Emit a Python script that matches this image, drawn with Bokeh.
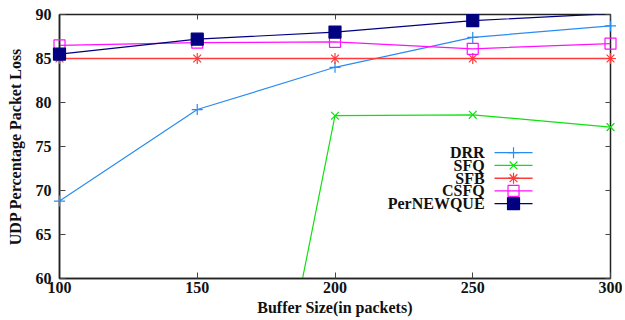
from bokeh.plotting import figure
from bokeh.models import Range1d, LinearAxis, FixedTicker, ColumnDataSource, CDSView, BooleanFilter
from bokeh.core.properties import value
from bokeh.embed import file_html
from bokeh.resources import INLINE

# ---- data ----
buffer_sizes = [100, 150, 200, 250, 300]
drr = [68.8, 79.2, 84.0, 87.4, 88.7]
sfq = [0.0, 0.0, 78.5, 78.6, 77.2]
sfb = [85.0, 85.0, 85.0, 85.0, 85.0]
csfq = [86.5, 86.8, 86.9, 86.1, 86.7]
pernewque = [85.5, 87.2, 88.0, 89.3, 90.1]
x_ticks = [100, 150, 200, 250, 300]
y_ticks = [60, 65, 70, 75, 80, 85, 90]
series_names = ["DRR", "SFQ", "SFB", "CSFQ", "PerNEWQUE"]

X_MIN, X_MAX = 100, 300
Y_MIN, Y_MAX = 60, 90

FONT = "Liberation Serif"

styles = {
    "DRR": dict(color="#2a8cf0", marker="cross", size=11, fill=False),
    "SFQ": dict(color="#10e010", marker="x", size=11, fill=False),
    "SFB": dict(color="#ff3a3a", marker="asterisk", size=11, fill=False),
    "CSFQ": dict(color="#ff10ff", marker="square", size=11, fill=False),
    "PerNEWQUE": dict(color="#000080", marker="square", size=12, fill=True),
}
series_values = {"DRR": drr, "SFQ": sfq, "SFB": sfb, "CSFQ": csfq, "PerNEWQUE": pernewque}

p = figure(width=622, height=318,
           x_range=Range1d(X_MIN, X_MAX), y_range=Range1d(Y_MIN, Y_MAX),
           output_backend="svg", toolbar_location=None,
           min_border_left=59, min_border_right=12, min_border_top=14, min_border_bottom=40)

p.xgrid.visible = False
p.ygrid.visible = False
p.outline_line_color = "#222222"
p.outline_line_width = 1.5
p.background_fill_color = "white"
p.border_fill_color = "white"

for ax in (p.xaxis[0], p.yaxis[0]):
    ax.major_tick_in = 6
    ax.major_tick_out = 0
    ax.minor_tick_line_color = None
    ax.axis_line_color = "#222222"
    ax.axis_line_width = 1.5
    ax.major_tick_line_color = "#444444"
    ax.major_label_text_font = FONT
    ax.major_label_text_font_style = "bold"
    ax.major_label_text_font_size = "16px"
    ax.major_label_text_color = "#111111"
    ax.axis_label_text_font = FONT
    ax.axis_label_text_font_style = "bold"
    ax.axis_label_text_font_size = "16px"
    ax.axis_label_text_color = "#111111"

p.xaxis[0].ticker = FixedTicker(ticks=x_ticks)
p.yaxis[0].ticker = FixedTicker(ticks=y_ticks)
p.xaxis[0].axis_label = "Buffer Size(in packets)"
p.yaxis[0].axis_label = "UDP Percentage Packet Loss"
p.xaxis[0].major_label_standoff = 3
p.xaxis[0].axis_label_standoff = 3
p.yaxis[0].major_label_standoff = 8
p.yaxis[0].axis_label_standoff = 9

# mirrored ticks on top/right (labels not drawn)
top = LinearAxis(ticker=FixedTicker(ticks=x_ticks), major_tick_in=5, major_tick_out=0,
                 minor_tick_line_color=None, major_label_text_font_size="8px",
                 major_label_text_color=None,
                 axis_line_color=None, major_tick_line_color="#444444", major_label_standoff=0)
right = LinearAxis(ticker=FixedTicker(ticks=y_ticks), major_tick_in=5, major_tick_out=0,
                   minor_tick_line_color=None, major_label_text_font_size="8px",
                   major_label_text_color=None,
                   axis_line_color=None, major_tick_line_color="#444444", major_label_standoff=0)
p.add_layout(top, "above")
p.add_layout(right, "right")

for name in series_names:
    st = styles[name]
    vals = series_values[name]
    src = ColumnDataSource(dict(x=buffer_sizes, y=vals))
    lw = 1.6 if name == "SFB" else 1.2
    p.line("x", "y", source=src, line_color=st["color"], line_width=lw)
    inside = BooleanFilter([Y_MIN <= v <= Y_MAX for v in vals])
    p.scatter("x", "y", source=src, view=CDSView(filter=inside), marker=st["marker"],
              size=st["size"], line_color=st["color"], line_width=1.2,
              fill_color=st["color"] if st["fill"] else None, level="overlay")

# gnuplot-style key: right-aligned text with sample to its right
KEY_TEXT_X = 254.3
KEY_LINE_X0, KEY_LINE_X1 = 257.9, 271.7
KEY_MARK_X = 264.8
KEY_TOP_Y = 74.3
KEY_STEP = 1.45
for i, name in enumerate(series_names):
    st = styles[name]
    yy = KEY_TOP_Y - i * KEY_STEP
    p.text(x=[KEY_TEXT_X], y=[yy], text=[name], text_align="right", text_baseline="middle",
           text_font=value(FONT), text_font_style="bold", text_font_size="16px",
           text_color="#111111", level="overlay")
    p.line([KEY_LINE_X0, KEY_LINE_X1], [yy, yy], line_color=st["color"],
           line_width=1.6 if name == "SFB" else 1.2, level="overlay")
    p.scatter([KEY_MARK_X], [yy], marker=st["marker"], size=st["size"],
              line_color=st["color"], line_width=1.2,
              fill_color=st["color"] if st["fill"] else None, level="overlay")

open("out.html", "w").write(file_html(p, INLINE))
